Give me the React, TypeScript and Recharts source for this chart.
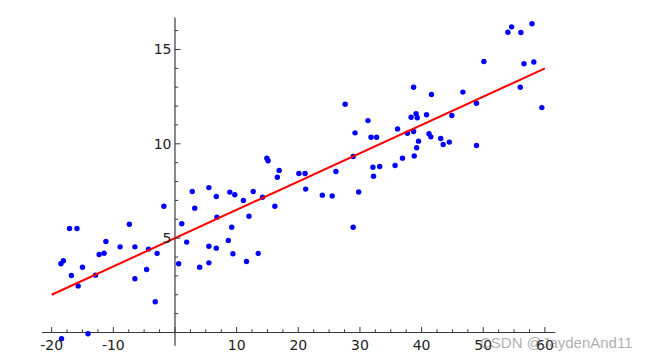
import React from 'react';
import { ScatterChart, Scatter, XAxis, YAxis, ReferenceLine } from 'recharts';

// ---- data ----
const pointX = [
  -18.5, -18.1, -17.1, -15.9, -16.8, -15.7, -15.0, -12.9, -12.3, -11.5,
  -11.2, -8.9, -7.4, -6.5, -6.5, -4.6, -4.3, -3.2, -2.9, -1.8,
  0.6, 1.1, 1.9, 2.8, 3.2, 4.0, 5.5, 5.5, 5.5, 6.7,
  6.7, 6.8, 8.65, 8.9, -18.4, -14.1,
  9.2, 9.4, 9.7, 11.1, 11.6, 12.0, 12.7, 13.5, 14.2, 14.9,
  15.1, 16.2, 16.6, 16.9, 20.1, 21.1, 21.2, 23.9, 25.5, 26.1,
  28.9, 28.9, 29.2, 29.8, 31.8, 32.7, 32.1, 32.2, 33.2, 35.7,
  27.6, 31.3,
  36.1, 36.9, 37.7, 38.3, 38.7, 38.7, 38.8, 39.1, 39.3, 39.2,
  39.5, 40.8, 41.2, 41.5, 41.6, 43.1, 43.5, 44.5, 44.9, 46.7,
  48.9, 48.9, 50.1, 56.0, 56.6, 58.2, 59.5,
  54.0, 54.6, 56.1, 57.9,
];
const pointY = [
  3.64, 3.8, 5.51, 5.51, 3.02, 2.47, 3.46, 3.04, 4.13, 4.2,
  4.82, 4.54, 5.74, 4.54, 2.85, 3.34, 4.42, 1.63, 4.19, 6.69,
  3.64, 5.76, 4.79, 7.47, 6.59, 3.46, 7.68, 3.69, 4.57, 7.21,
  4.47, 6.11, 4.88, 7.44, -0.33, -0.07,
  5.58, 4.17, 7.3, 7.0, 3.76, 6.16, 7.47, 4.19, 7.17, 9.24,
  9.1, 6.69, 8.23, 8.59, 8.43, 8.43, 7.6, 7.28, 7.24, 8.53,
  5.58, 9.33, 10.58, 7.45, 10.35, 10.35, 8.76, 8.28, 8.8, 8.85,
  12.1, 11.23,
  10.79, 9.24, 10.56, 11.41, 13.0, 10.65, 9.36, 11.59, 11.38, 9.79,
  10.14, 11.54, 10.53, 10.37, 12.61, 10.28, 9.96, 10.09, 11.5, 12.74,
  12.15, 9.91, 14.36, 13.0, 14.24, 14.34, 11.92,
  15.91, 16.2, 15.9, 16.36,
];
const fitX = [-20, 60];
const fitY = [2.0, 14.0];

const xTicks = [
  -20, -17.5, -15, -12.5, -10, -7.5, -5, -2.5, 0, 2.5, 5, 7.5, 10, 12.5, 15, 17.5,
  20, 22.5, 25, 27.5, 30, 32.5, 35, 37.5, 40, 42.5, 45, 47.5, 50, 52.5, 55, 57.5, 60,
];
const xLabels = [-20, -10, 10, 20, 30, 40, 50, 60];
const yTicks = [1, 2, 3, 4, 5, 6, 7, 8, 9, 10, 11, 12, 13, 14, 15, 16];
const yLabels = [5, 10, 15];

const points = pointX.map((x, i) => ({ x, y: pointY[i] }));
const fitLine = fitX.map((x, i) => ({ x, y: fitY[i] }));

// ---- layout ----
const CW = 643;
const CH = 354;
const XMIN = -21.6;
const XMAX = 61.7;
const YMIN = -0.7;
const YMAX = 16.7;
const YAXIS_W = 30;
const XAXIS_H = 16;
const PLOT = { top: 9.4, right: 95.6, bottom: 16.3, left: 33.8 };
const M = {
  top: PLOT.top,
  right: PLOT.right,
  bottom: PLOT.bottom - XAXIS_H,
  left: PLOT.left - YAXIS_W,
};
const PW = CW - PLOT.left - PLOT.right;
const PH = CH - PLOT.top - PLOT.bottom;
const X0 = ((0 - XMIN) / (XMAX - XMIN)) * PW; // axis crossing offset from plot left
const Y0 = ((0 - YMIN) / (YMAX - YMIN)) * PH; // axis crossing offset from plot bottom

const AXIS = '#3a3a3a';
const FONT = '"DejaVu Sans", Verdana, sans-serif';

const XTick = (props: any) => {
  const { x, y, payload } = props;
  const v = payload.value;
  const ay = y - Y0;
  const major = xLabels.includes(v) || v === 0;
  return (
    <g>
      <line x1={x} x2={x} y1={ay} y2={ay - (major ? 5.5 : 3.2)} stroke={AXIS} strokeWidth={1} />
      {xLabels.includes(v) && (
        <text x={x} y={ay + 17.8} textAnchor="middle" fontFamily={FONT} fontSize={14} fill="#222">
          {v}
        </text>
      )}
    </g>
  );
};

const YTick = (props: any) => {
  const { x, y, payload } = props;
  const v = payload.value;
  const ax = x + X0;
  const major = yLabels.includes(v);
  return (
    <g>
      <line x1={ax} x2={ax + (major ? 5.5 : 3.2)} y1={y} y2={y} stroke={AXIS} strokeWidth={1} />
      {major && (
        <text x={ax - 3.5} y={y} dy={5} textAnchor="end" fontFamily={FONT} fontSize={14} fill="#222">
          {v}
        </text>
      )}
    </g>
  );
};

const Dot = (props: any) => <circle cx={props.cx} cy={props.cy} r={2.7} fill="#0000ff" />;
const NoDot = () => <g />;

export default function App() {
  return (
    <div style={{ position: 'relative', width: CW, height: CH }}>
      <ScatterChart width={CW} height={CH} margin={M}>
        <XAxis
          type="number"
          dataKey="x"
          domain={[XMIN, XMAX]}
          ticks={xTicks}
          interval={0}
          axisLine={false}
          tickLine={false}
          tickSize={0}
          tickMargin={0}
          height={XAXIS_H}
          tick={<XTick />}
        />
        <YAxis
          type="number"
          dataKey="y"
          domain={[YMIN, YMAX]}
          ticks={yTicks}
          interval={0}
          axisLine={false}
          tickLine={false}
          tickSize={0}
          tickMargin={0}
          width={YAXIS_W}
          tick={<YTick />}
        />
        <ReferenceLine y={0} stroke={AXIS} strokeWidth={1.2} />
        <ReferenceLine x={0} stroke={AXIS} strokeWidth={1.2} />
        <Scatter data={points} shape={<Dot />} isAnimationActive={false} />
        <Scatter
          data={fitLine}
          line={{ stroke: '#ff0000', strokeWidth: 2 }}
          shape={<NoDot />}
          isAnimationActive={false}
        />
      </ScatterChart>
      <div
        style={{
          position: 'absolute',
          left: 472,
          top: 327,
          fontFamily: '"Liberation Sans", Arial, sans-serif',
          fontSize: 15,
          lineHeight: '15px',
          color: 'rgba(120,120,120,0.6)',
          whiteSpace: 'nowrap',
          pointerEvents: 'none',
        }}
      >
        CSDN @JaydenAnd11
      </div>
    </div>
  );
}
